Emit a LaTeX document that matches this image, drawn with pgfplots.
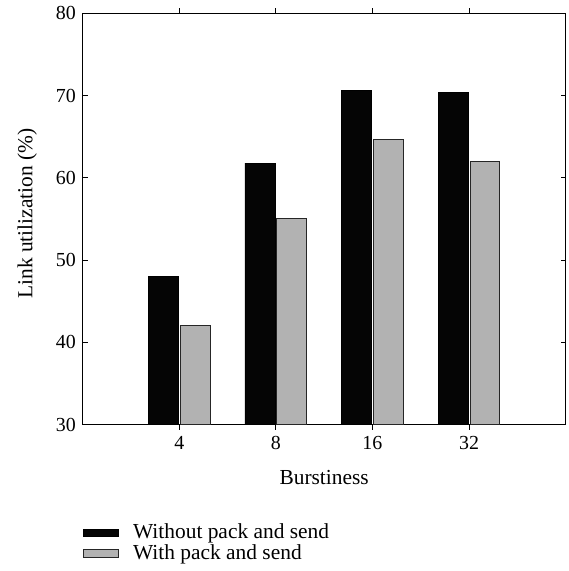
\documentclass[border=0pt]{standalone}
\usepackage{fontspec}
\setmainfont{Liberation Serif}
\usepackage{pgfplots}
\pgfplotsset{compat=1.18}
\pgfplotsset{boxlegend/.style={legend image code/.code={\draw[##1] (0pt,-4pt) rectangle (35pt,4pt); \path[draw=none,fill=none] (0pt,0pt) -- (48pt,0pt);}}}
\begin{document}
\fontsize{20}{24}\selectfont
\begin{tikzpicture}
\path (0,0) rectangle (571pt,571pt);
\begin{axis}[
  at={(83pt,147pt)}, anchor=south west,
  scale only axis, width=485pt, height=413pt,
  xmin=0, xmax=5, ymin=30, ymax=80,
  ytick={30,40,...,80},
  xtick={1,2,3,4}, xticklabels={4,8,16,32},
  tick align=inside, major tick length=5pt,
  axis line style={line width=0.9pt},
  tick style={line width=0.9pt, black},
  /pgf/number format/assume math mode=true,
  ybar=2pt, bar width=30pt,
  tick label style={font=\fontsize{20}{24}\selectfont},
  label style={font=\fontsize{21.5}{25}\selectfont},
  ylabel={Link utilization (\%)},
  xlabel={Burstiness},
  ylabel style={at={(axis description cs:-0.115,0.513)}, anchor=center},
  xlabel style={at={(axis description cs:0.5,-0.128)}, anchor=center},
  legend style={draw=none, fill=none, at={(axis description cs:0.0,-0.236)}, anchor=north west, inner sep=0pt, row sep=-1pt, font=\fontsize{21.5}{25}\selectfont},
  legend cell align=left,
]
\addplot[fill=black!98, draw=black, line width=0.6pt, boxlegend] coordinates {(1,48.0) (2,61.8) (3,70.6) (4,70.4)};
\addplot[fill=black!30, draw=black!85, line width=1pt, boxlegend] coordinates {(1,42.0) (2,55.0) (3,64.7) (4,62.0)};
\legend{Without pack and send, With pack and send}
\end{axis}
\end{tikzpicture}
\end{document}
